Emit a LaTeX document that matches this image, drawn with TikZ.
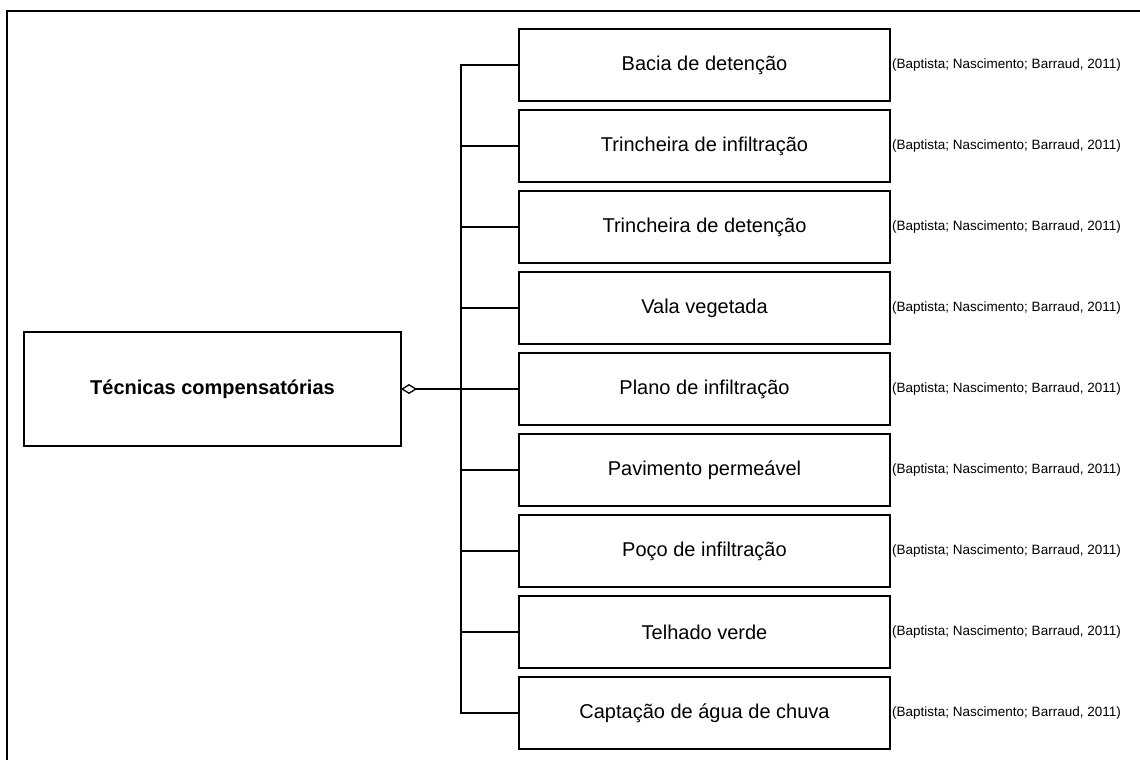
\documentclass[tikz,border=0pt]{standalone}
\usepackage{fontspec}
\setmainfont{Liberation Sans}
\usetikzlibrary{positioning,arrows.meta}
\tikzset{
  techbox/.style={draw, line width=1.3pt, minimum width=371pt, minimum height=72pt, outer sep=0pt, inner sep=0pt, font=\fontsize{20}{24}\selectfont},
  mainbox/.style={techbox, minimum width=377pt, minimum height=114pt, font=\fontsize{20}{24}\selectfont\bfseries},
  refnote/.style={anchor=west, inner sep=2pt, font=\fontsize{13.5}{16}\selectfont},
  bondline/.style={line width=1.3pt},
  framerule/.style={line width=2.2pt}
}

\begin{document}
\begin{tikzpicture}[x=1pt, y=-1pt, node distance=9pt]
\useasboundingbox (0,0) rectangle (1140,760);
\draw[framerule] (1140,11) -- (7,11) -- (7,760);
% main concept
\node[mainbox] (main) at (212.5,389) {Técnicas compensatórias};
\coordinate (bus) at (461,389);
% techniques
\node[techbox] (t1) at (704.5,65) {Bacia de detenção};
\node[techbox, below=of t1] (t2) {Trincheira de infiltração};
\node[techbox, below=of t2] (t3) {Trincheira de detenção};
\node[techbox, below=of t3] (t4) {Vala vegetada};
\node[techbox, below=of t4] (t5) {Plano de infiltração};
\node[techbox, below=of t5] (t6) {Pavimento permeável};
\node[techbox, below=of t6] (t7) {Poço de infiltração};
\node[techbox, below=of t7] (t8) {Telhado verde};
\node[techbox, below=of t8] (t9) {Captação de água de chuva};
\foreach \i in {1,...,9}
  \node[refnote, right=0pt of t\i] (ref\i) {(Baptista; Nascimento; Barraud, 2011)};
% connectors
\draw[bondline, {Diamond[open, length=16pt, width=10pt, line width=1.3pt]}-] (main.east) -- (bus);
\draw[bondline] (t1.west) -| (bus) |- (t9.west);
\foreach \i in {2,...,8}
  \draw[bondline] (t\i.west) -- (t\i.west -| bus);
\end{tikzpicture}
\end{document}
